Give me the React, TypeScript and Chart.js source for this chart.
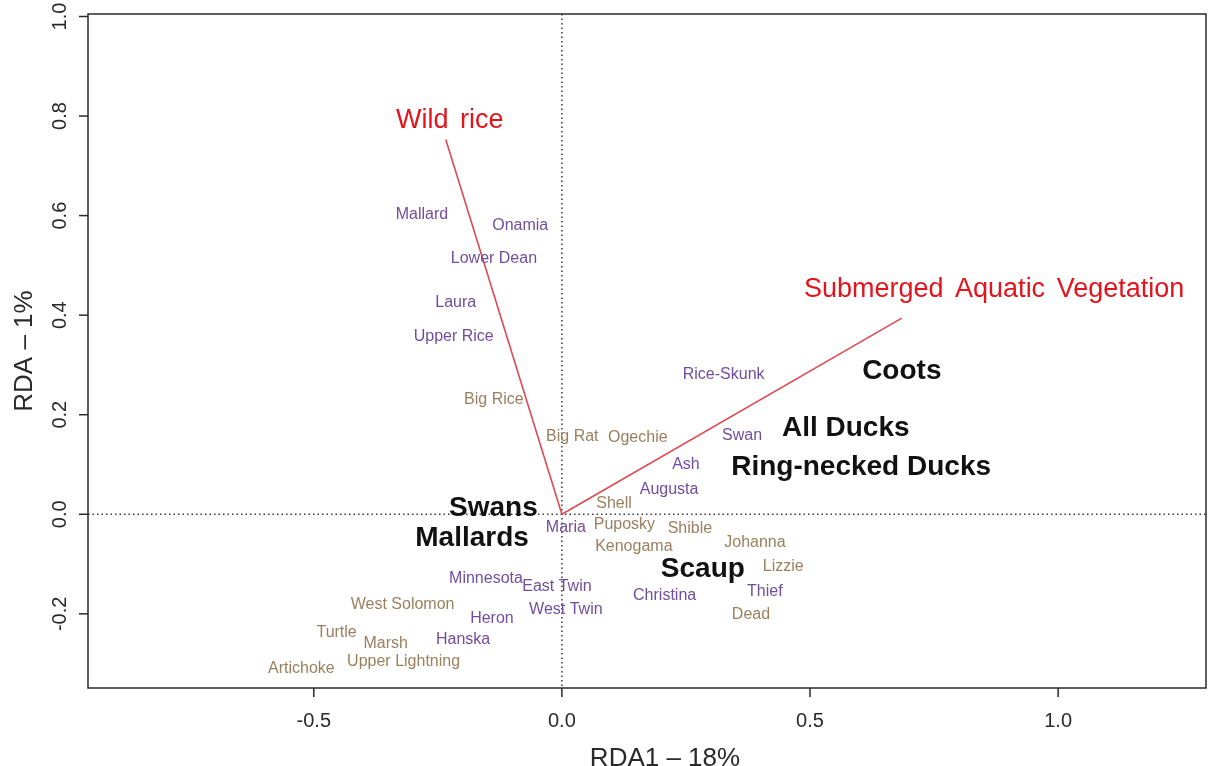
import { useEffect, useRef } from "react";
import { Chart, registerables } from "chart.js";

Chart.register(...registerables);

// Site scores: lakes shown in purple
const purpleSites = [
  "Mallard", "Onamia", "Lower Dean", "Laura", "Upper Rice", "Rice-Skunk", "Swan", "Ash",
  "Augusta", "Maria", "Minnesota", "East Twin", "West Twin", "Heron", "Hanska", "Christina", "Thief",
];
const purpleX = [-0.282, -0.084, -0.137, -0.214, -0.218, 0.326, 0.363, 0.25, 0.216, 0.008, -0.153, -0.01, 0.008, -0.141, -0.199, 0.207, 0.409];
const purpleY = [0.604, 0.582, 0.516, 0.428, 0.359, 0.284, 0.16, 0.102, 0.053, -0.025, -0.126, -0.143, -0.189, -0.206, -0.25, -0.16, -0.153];

// Site scores: lakes shown in brown
const brownSites = [
  "Big Rice", "Big Rat", "Ogechie", "Shell", "Puposky", "Shible", "Kenogama", "Johanna",
  "Lizzie", "Dead", "West Solomon", "Turtle", "Marsh", "Upper Lightning", "Artichoke",
];
const brownX = [-0.137, 0.021, 0.153, 0.105, 0.126, 0.258, 0.145, 0.389, 0.446, 0.381, -0.321, -0.454, -0.355, -0.319, -0.525];
const brownY = [0.232, 0.158, 0.156, 0.025, -0.018, -0.027, -0.063, -0.055, -0.102, -0.199, -0.178, -0.236, -0.258, -0.293, -0.308];

// Response (waterfowl) scores
const birdNames = ["Coots", "All Ducks", "Ring-necked Ducks", "Scaup", "Swans", "Mallards"];
const birdX = [0.685, 0.572, 0.603, 0.284, -0.138, -0.181];
const birdY = [0.292, 0.178, 0.098, -0.105, 0.017, -0.044];

// Explanatory vectors (biplot arrows) and their label positions
const vectorNames = ["Wild rice", "Submerged Aquatic Vegetation"];
const vectorX = [-0.234, 0.685];
const vectorY = [0.753, 0.394];
const vectorLabelX = [-0.226, 0.871];
const vectorLabelY = [0.795, 0.455];

// Axes
const xMin = -0.955;
const xMax = 1.298;
const yMin = -0.349;
const yMax = 1.005;
const xTicks = [-0.5, 0, 0.5, 1.0];
const xTickLabels = ["-0.5", "0.0", "0.5", "1.0"];
const yTicks = [-0.2, 0, 0.2, 0.4, 0.6, 0.8, 1.0];
const yTickLabels = ["-0.2", "0.0", "0.2", "0.4", "0.6", "0.8", "1.0"];
const xTitle = "RDA1 \u2013 18%";
const yTitle = "RDA \u2013 1%";

const FONT = '"Liberation Sans", Arial, sans-serif';
const PURPLE = "#6F4E9F";
const BROWN = "#9A805E";
const RED_TEXT = "#E3141C";
const RED_LINE = "#DC4A52";
const AXIS = "#2a2a2a";

const points = (xs: number[], ys: number[]) => xs.map((x, i) => ({ x, y: ys[i] }));

// Draws the frame, ticks, axis titles and the dotted zero lines
const framePlugin = {
  id: "rFrame",
  beforeDatasetsDraw(chart: any) {
    const { ctx, chartArea: a, scales } = chart;
    const sx = scales.x;
    const sy = scales.y;
    ctx.save();
    ctx.strokeStyle = "#3a3a3a";
    ctx.lineWidth = 1.5;
    ctx.setLineDash([1.5, 3]);
    const x0 = sx.getPixelForValue(0);
    const y0 = sy.getPixelForValue(0);
    ctx.beginPath();
    ctx.moveTo(x0, a.top);
    ctx.lineTo(x0, a.bottom);
    ctx.moveTo(a.left, y0);
    ctx.lineTo(a.right, y0);
    ctx.stroke();
    ctx.restore();
  },
  afterDatasetsDraw(chart: any) {
    const { ctx, chartArea: a, scales } = chart;
    const sx = scales.x;
    const sy = scales.y;
    ctx.save();
    ctx.strokeStyle = AXIS;
    ctx.lineWidth = 1.5;
    ctx.strokeRect(a.left, a.top, a.right - a.left, a.bottom - a.top);

    // x ticks
    ctx.fillStyle = AXIS;
    ctx.font = `20px ${FONT}`;
    ctx.textAlign = "center";
    ctx.textBaseline = "alphabetic";
    xTicks.forEach((v, i) => {
      const px = sx.getPixelForValue(v);
      ctx.beginPath();
      ctx.moveTo(px, a.bottom);
      ctx.lineTo(px, a.bottom + 9);
      ctx.stroke();
      ctx.fillText(xTickLabels[i], px, a.bottom + 39);
    });

    // y ticks, labels rotated parallel to the axis
    yTicks.forEach((v, i) => {
      const py = sy.getPixelForValue(v);
      ctx.beginPath();
      ctx.moveTo(a.left, py);
      ctx.lineTo(a.left - 9, py);
      ctx.stroke();
      ctx.save();
      ctx.translate(66, py);
      ctx.rotate(-Math.PI / 2);
      ctx.fillText(yTickLabels[i], 0, 0);
      ctx.restore();
    });

    // axis titles
    ctx.font = `26px ${FONT}`;
    ctx.fillText(xTitle, 665, 766);
    ctx.save();
    ctx.translate(31.5, (a.top + a.bottom) / 2);
    ctx.rotate(-Math.PI / 2);
    ctx.fillText(yTitle, 0, 0);
    ctx.restore();
    ctx.restore();
  },
};

// Writes each point's name centred on the point
const textPlugin = {
  id: "textMarks",
  afterDatasetsDraw(chart: any) {
    const ctx = chart.ctx;
    chart.data.datasets.forEach((ds: any, i: number) => {
      if (!ds.names) return;
      const meta = chart.getDatasetMeta(i);
      ctx.save();
      ctx.font = ds.textFont;
      ctx.fillStyle = ds.textColor;
      ctx.textAlign = "center";
      ctx.textBaseline = "alphabetic";
      if (ds.wordGap && "wordSpacing" in ctx) (ctx as any).wordSpacing = ds.wordGap;
      meta.data.forEach((el: any, j: number) => {
        ctx.fillText(ds.names[j], el.x, el.y + ds.capShift);
      });
      ctx.restore();
    });
  },
};

export default function App() {
  const canvasRef = useRef<HTMLCanvasElement | null>(null);

  useEffect(() => {
    document.body.style.margin = "0";
    document.body.style.background = "#ffffff";
    const canvas = canvasRef.current;
    if (!canvas) return;

    const arrowSets = vectorNames.map((name, i) => ({
      type: "line" as const,
      label: name,
      data: [
        { x: 0, y: 0 },
        { x: vectorX[i], y: vectorY[i] },
      ],
      borderColor: RED_LINE,
      borderWidth: 1.6,
      pointRadius: 0,
      showLine: true,
      fill: false,
    }));

    const chart = new Chart(canvas, {
      type: "scatter",
      data: {
        datasets: [
          ...arrowSets,
          {
            label: "purple sites",
            data: points(purpleX, purpleY),
            pointRadius: 0,
            names: purpleSites,
            textFont: `16px ${FONT}`,
            textColor: PURPLE,
            capShift: 5.7,
          } as any,
          {
            label: "brown sites",
            data: points(brownX, brownY),
            pointRadius: 0,
            names: brownSites,
            textFont: `16px ${FONT}`,
            textColor: BROWN,
            capShift: 5.7,
          } as any,
          {
            label: "waterfowl",
            data: points(birdX, birdY),
            pointRadius: 0,
            names: birdNames,
            textFont: `bold 28px ${FONT}`,
            textColor: "#111111",
            capShift: 10,
          } as any,
          {
            label: "vectors",
            data: points(vectorLabelX, vectorLabelY),
            pointRadius: 0,
            names: vectorNames,
            textFont: `27px ${FONT}`,
            textColor: RED_TEXT,
            capShift: 9.7,
            wordGap: "4px",
          } as any,
        ],
      },
      options: {
        responsive: false,
        animation: false,
        events: [],
        layout: { padding: { left: 88, top: 14, right: 3, bottom: 78 } },
        plugins: { legend: { display: false }, tooltip: { enabled: false } },
        scales: {
          x: { type: "linear", min: xMin, max: xMax, display: false },
          y: { type: "linear", min: yMin, max: yMax, display: false },
        },
      },
      plugins: [framePlugin, textPlugin],
    });

    return () => chart.destroy();
  }, []);

  return (
    <div style={{ width: 1209, height: 766, background: "#fff" }}>
      <canvas ref={canvasRef} width={1209} height={766} style={{ display: "block" }} />
    </div>
  );
}
